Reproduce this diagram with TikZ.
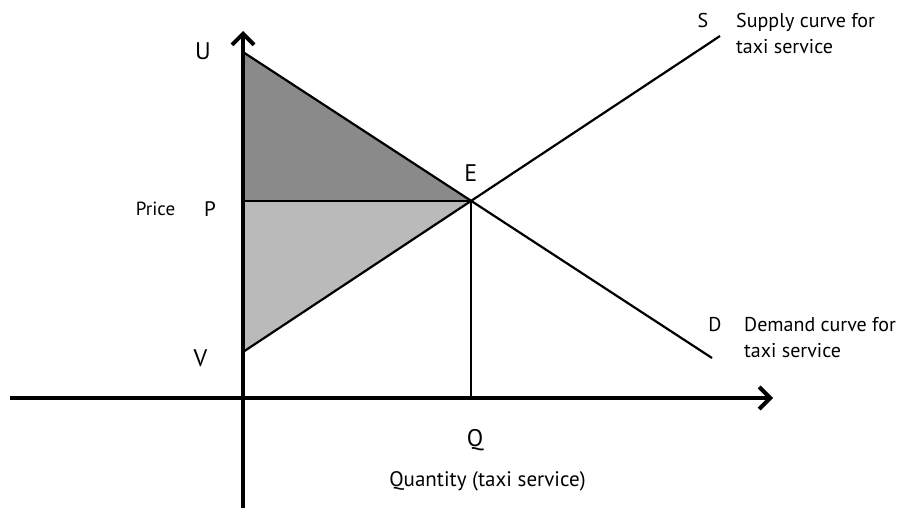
\documentclass[tikz,border=0pt]{standalone}
\usepackage{fontspec}
\setmainfont{PT Sans}
\usetikzlibrary{arrows.meta}
\begin{document}
\begin{tikzpicture}[x=1pt,y=-1pt,
  axis/.style={line width=4pt,-{Straight Barb[length=11pt,width=22pt,line width=4pt]}},
  curve/.style={line width=2.2pt},
  big/.style={font=\fontsize{24}{26}\selectfont, inner sep=0pt, anchor=base},
  mid/.style={font=\fontsize{21}{24}\selectfont, inner sep=0pt, anchor=base},
  txt/.style={font=\fontsize{20}{26}\selectfont, inner sep=0pt, anchor=base west},
  dark/.style={fill=black!46},
  light/.style={fill=black!27}]
\useasboundingbox (0,0) rectangle (904,509);
\coordinate (U) at (243,52);
\coordinate (P) at (243,201);
\coordinate (V) at (243,352);
\coordinate (E) at (471,201);
\coordinate (Q) at (471,398);
\coordinate (Send) at (720,36);
\coordinate (Dend) at (712,358);
\coordinate (Xs) at (10,398);
\coordinate (Xe) at (773,398);
\coordinate (Ys) at (243,508);
\coordinate (Ye) at (243,31);
\fill[dark] (U) -- (P) -- (E) -- cycle;
\fill[light] (P) -- (E) -- (V) -- cycle;
\draw[curve] (V) -- (Send);
\draw[curve] (U) -- (Dend);
\draw[curve] (P) -- (E);
\draw[curve] (E) -- (Q);
\draw[axis] (Xs) -- (Xe);
\draw[axis] (Ys) -- (Ye);
\node[big] (lU) at (203,59.3) {U};
\node[mid] (lP) at (210,216) {P};
\node[big] (lV) at (200.5,366) {V};
\node[big] (lE) at (470.7,181) {E};
\node[big] (lQ) at (475,446.7) {Q};
\node[txt,anchor=base] (lS) at (703,27) {S};
\node[txt,anchor=base] (lD) at (715,331) {D};
\node[txt,anchor=base,font=\fontsize{19}{22}\selectfont] (price) at (155.5,215.7) {Price};
\node[txt,anchor=base,font=\fontsize{21}{24}\selectfont] (qty) at (487.5,486) {Quantity (taxi service)};
\node[txt] (s1) at (736,27) {Supply curve for};
\node[txt] (s2) at (736,53) {taxi service};
\node[txt] (d1) at (744,331) {Demand curve for};
\node[txt] (d2) at (744,357) {taxi service};
\end{tikzpicture}
\end{document}
